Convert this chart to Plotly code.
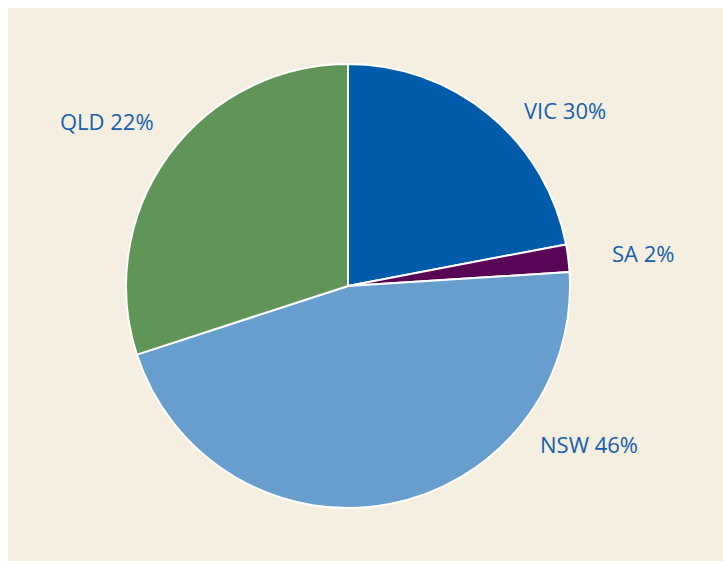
import plotly.graph_objects as go

# Data
states = ["VIC", "SA", "NSW", "QLD"]
slice_values = [22, 2, 46, 30]          # slice sizes as drawn
label_texts = ["VIC 30%", "SA 2%", "NSW 46%", "QLD 22%"]  # label text as printed
colors = ["#005BAA", "#5A0656", "#689ECD", "#5F9657"]

W, H = 723, 561
BG = "#F5EFE2"
TXT = "#1560AC"

# label centre positions in pixels
label_px = [(565, 110), (643, 253), (589, 444), (107, 121)]

fig = go.Figure()
fig.add_trace(go.Pie(
    labels=states,
    values=slice_values,
    sort=False,
    direction="clockwise",
    rotation=0,
    marker=dict(colors=colors, line=dict(color="white", width=2)),
    textinfo="none",
    hoverinfo="label+percent",
    showlegend=False,
    domain=dict(x=[126 / W, 570 / W], y=[(H - 508) / H, (H - 64) / H]),
))

for txt, (px, py) in zip(label_texts, label_px):
    fig.add_annotation(
        x=px / W, y=1 - py / H, xref="paper", yref="paper",
        text=txt, showarrow=False, xanchor="center", yanchor="middle",
        font=dict(family="Open Sans, Noto Sans, sans-serif", size=22, color=TXT),
    )

# white strips at top and left
fig.add_shape(type="rect", xref="paper", yref="paper", x0=0, x1=1, y0=1 - 8 / H, y1=1,
              fillcolor="white", line=dict(width=0), layer="below")
fig.add_shape(type="rect", xref="paper", yref="paper", x0=0, x1=8 / W, y0=0, y1=1,
              fillcolor="white", line=dict(width=0), layer="below")

fig.update_layout(
    width=W, height=H,
    margin=dict(l=0, r=0, t=0, b=0),
    paper_bgcolor=BG,
    plot_bgcolor=BG,
)

fig.write_html("out.html")
